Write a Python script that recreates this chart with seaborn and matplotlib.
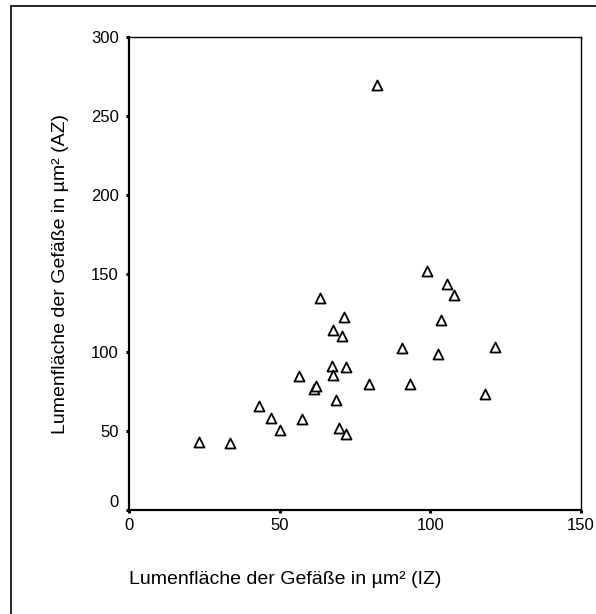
import matplotlib
matplotlib.use("Agg")
import matplotlib.pyplot as plt
import seaborn as sns
import pandas as pd
from matplotlib.lines import Line2D

sns.set_theme(style="white")
plt.rcParams["font.family"] = ["Liberation Sans", "DejaVu Sans"]

# Lumen area of vessels (µm²): IZ vs AZ
iz = [23.2, 33.5, 43.0, 47.0, 50.0, 56.5, 57.4, 61.5, 62.1, 63.3,
      67.3, 67.7, 67.7, 68.8, 69.8, 70.8, 71.3, 71.9, 71.9, 79.7,
      82.2, 90.6, 93.1, 98.9, 102.5, 103.5, 105.6, 107.7, 118.1, 121.6]
az = [43.3, 42.5, 66.1, 58.1, 50.9, 85.0, 57.9, 76.7, 78.8, 134.6,
      91.5, 85.8, 113.9, 69.9, 52.2, 110.5, 122.6, 90.7, 48.4, 79.9,
      269.5, 102.9, 79.9, 151.3, 98.7, 120.7, 143.5, 136.3, 73.8, 103.6]

x_ticks = [0, 50, 100, 150]
y_ticks = [0, 50, 100, 150, 200, 250, 300]

df = pd.DataFrame({"IZ": iz, "AZ": az})

W, H = 596, 614
fig = plt.figure(figsize=(W / 100, H / 100), dpi=100)
fig.patch.set_facecolor("white")

left, right, top, bottom = 129, 581, 37, 510
ax = fig.add_axes([left / W, 1 - bottom / H, (right - left) / W, (bottom - top) / H])

sns.scatterplot(data=df, x="IZ", y="AZ", marker="^", s=52,
                facecolor="white", edgecolor="black", linewidth=1.3,
                ax=ax, zorder=3, clip_on=False)

ax.set_xlim(0, 150)
ax.set_ylim(0, 300)
ax.set_xticks(x_ticks)
ax.set_yticks(y_ticks)
ax.set_xticklabels([str(t) for t in x_ticks])
ax.set_yticklabels([str(t) for t in y_ticks])

for side in ["left", "bottom"]:
    ax.spines[side].set_linewidth(1.6)
    ax.spines[side].set_color("black")
for side in ["top", "right"]:
    ax.spines[side].set_visible(True)
    ax.spines[side].set_linewidth(1.0)
    ax.spines[side].set_color("black")

ax.tick_params(axis="both", which="major", direction="out", length=2.5,
               width=2.2, color="black", labelsize=12, labelcolor="black",
               left=True, bottom=True)
ax.tick_params(axis="y", pad=5)
ax.tick_params(axis="x", pad=3)
ax.get_yticklabels()[0].set_va("bottom")

ax.set_xlabel("Lumenfläche der Gefäße in µm² (IZ)", fontsize=14, color="black",
              ha="left", va="center")
ax.xaxis.set_label_coords(0.0, (bottom - 580) / (bottom - top))
ax.set_ylabel("Lumenfläche der Gefäße in µm² (AZ)", fontsize=14, color="black",
              ha="center", va="center")
ax.yaxis.set_label_coords((61 - left) / (right - left), 0.5)

# frame around the chart area
fig.add_artist(Line2D([11 / W, 11 / W], [1 - 6 / H, 0], color="black", lw=1.2,
                      transform=fig.transFigure))
fig.add_artist(Line2D([11 / W, 1], [1 - 6 / H, 1 - 6 / H], color="black", lw=1.2,
                      transform=fig.transFigure))

fig.savefig("out.png", dpi=100, facecolor="white")
